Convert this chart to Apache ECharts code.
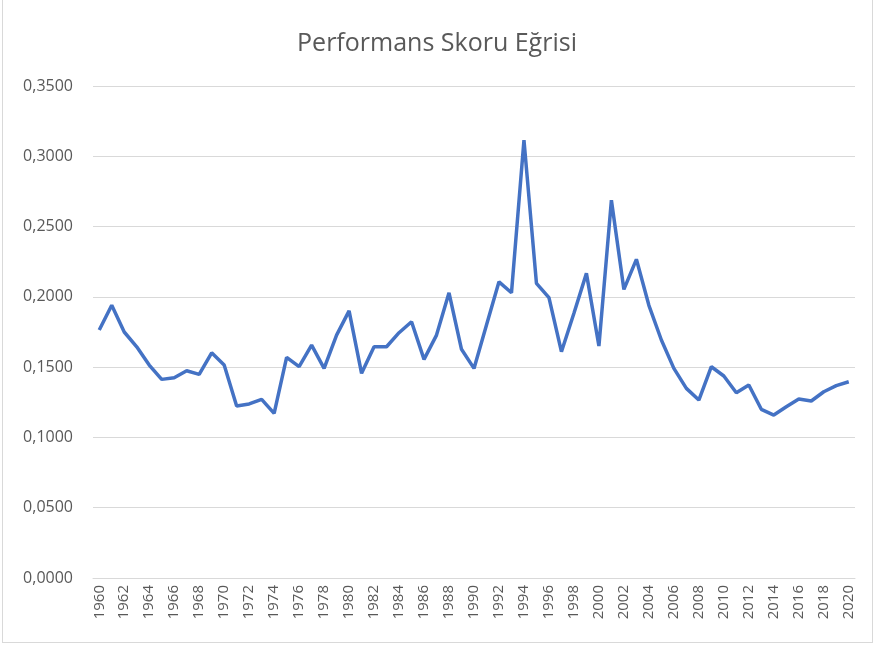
<!DOCTYPE html>
<html>
<head>
<meta charset="utf-8">
<title>Performans Skoru Eğrisi</title>
<script src="https://cdn.jsdelivr.net/npm/echarts@6/dist/echarts.min.js"></script>
<style>
  html, body { margin: 0; padding: 0; background: #fff; }
  #frame { position: absolute; left: 2px; top: -1px; width: 869px; height: 642px; border: 1px solid #d9d9d9; }
  #chart { position: absolute; left: 0; top: 0; width: 874px; height: 645px; }
</style>
</head>
<body>
<div id="frame"></div>
<div id="chart"></div>
<script>
// yıllar ve performans skorları
const years = []
for (let y = 1960; y <= 2020; y++) years.push(String(y))

const scores = [
  0.1764, 0.1940, 0.1750, 0.1645, 0.1515, 0.1413, 0.1425, 0.1474, 0.1449, 0.1602,
  0.1515, 0.1223, 0.1238, 0.1271, 0.1171, 0.1570, 0.1503, 0.1657, 0.1491, 0.1728,
  0.1900, 0.1456, 0.1645, 0.1645, 0.1745, 0.1823, 0.1555, 0.1728, 0.2029, 0.1627,
  0.1491, 0.1800, 0.2107, 0.2029, 0.3115, 0.2096, 0.1994, 0.1610, 0.1883, 0.2167,
  0.1650, 0.2688, 0.2053, 0.2267, 0.1940, 0.1693, 0.1491, 0.1349, 0.1266, 0.1503,
  0.1437, 0.1318, 0.1373, 0.1200, 0.1159, 0.1218, 0.1273, 0.1259, 0.1325, 0.1368,
  0.1396
]

const chart = echarts.init(document.getElementById('chart'))

chart.setOption({
  animation: false,
  title: {
    text: 'Performans Skoru Eğrisi',
    left: 'center',
    top: 26,
    textStyle: { fontFamily: 'Open Sans', fontSize: 25, fontWeight: 'normal', color: '#595959' }
  },
  grid: { left: 93, right: 19, top: 86, bottom: 67 },
  xAxis: {
    type: 'category',
    data: years,
    boundaryGap: true,
    axisLine: { lineStyle: { color: '#d9d9d9', width: 1 } },
    axisTick: { show: false },
    axisLabel: {
      interval: 1,
      rotate: 90,
      margin: 7,
      color: '#595959',
      fontFamily: 'Open Sans',
      fontSize: 15
    }
  },
  yAxis: {
    type: 'value',
    min: 0,
    max: 0.35,
    interval: 0.05,
    axisLine: { show: false },
    axisTick: { show: false },
    splitLine: { lineStyle: { color: '#d9d9d9', width: 1 } },
    axisLabel: {
      margin: 20,
      color: '#595959',
      fontFamily: 'Open Sans',
      fontSize: 16,
      formatter: v => v.toFixed(4).replace('.', ',')
    }
  },
  series: [{
    type: 'line',
    data: scores,
    symbol: 'none',
    lineStyle: { color: '#4472c4', width: 3.5 }
  }]
})
</script>
</body>
</html>
